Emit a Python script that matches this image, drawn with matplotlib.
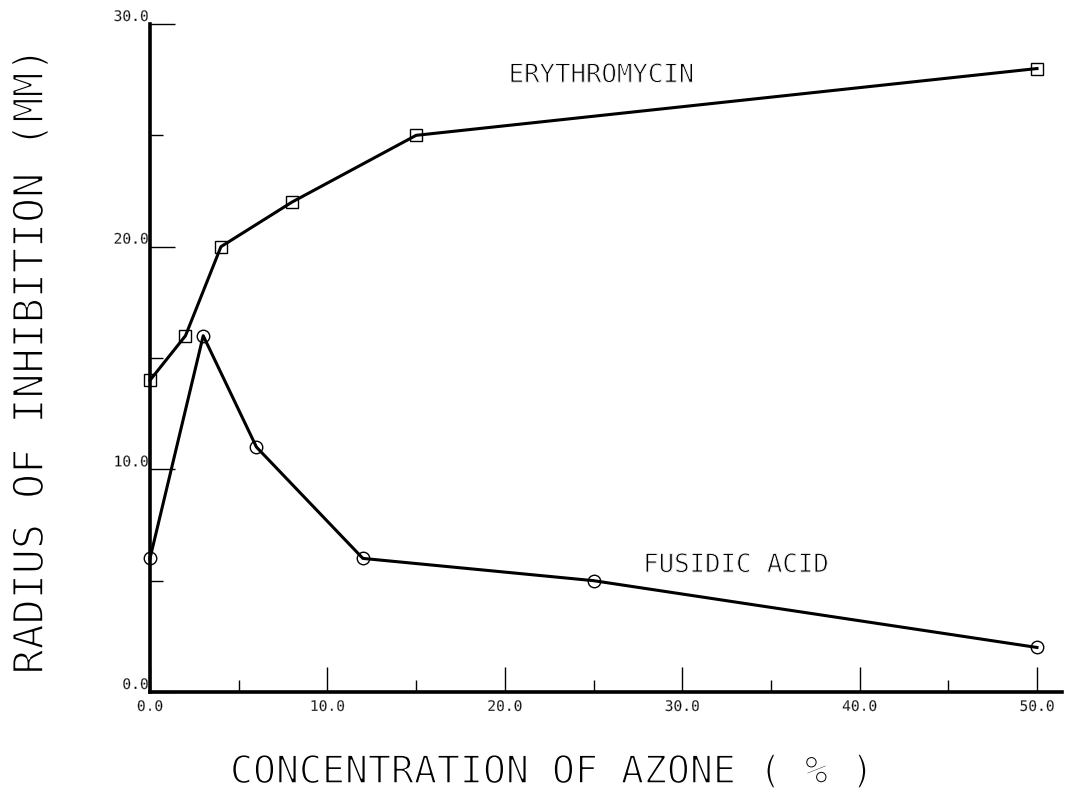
import matplotlib
matplotlib.use("Agg")
import matplotlib.pyplot as plt
import matplotlib.patheffects as pe
from matplotlib.ticker import MultipleLocator

# Data
ery_x = [0, 2, 4, 8, 15, 50]
ery_y = [14, 16, 20, 22, 25, 28]
fus_x = [0, 3, 6, 12, 25, 50]
fus_y = [6, 16, 11, 6, 5, 2]
x_ticks = [0, 10, 20, 30, 40, 50]
y_ticks = [0, 10, 20, 30]
x_label = "CONCENTRATION OF AZONE ( % )"
y_label = "RADIUS OF INHIBITION (MM)"

FONT = ["DejaVu Sans Mono", "DejaVu Sans"]
plt.rcParams["font.family"] = FONT


def thin(w):
    # erode glyph strokes with a white outline to mimic a thin plotter pen
    return [pe.Normal(), pe.Stroke(linewidth=w, foreground="white")]


W, H = 1065, 799
fig = plt.figure(figsize=(W / 100, H / 100), dpi=100)
left, right = 150, 1062
bottom, top = 692, 24
ax = fig.add_axes([left / W, (H - bottom) / H, (right - left) / W, (bottom - top) / H])
ax.set_xlim(0, 50 * (right - left) / (1037 - 150))
ax.set_ylim(0, 30)

ax.plot(ery_x, ery_y, color="black", lw=2.2, marker="s", ms=8,
        mfc="none", mec="black", mew=1.0, clip_on=False)
ax.plot(fus_x, fus_y, color="black", lw=2.2, marker="o", ms=9,
        mfc="none", mec="black", mew=1.0, clip_on=False)

for s in ["top", "right"]:
    ax.spines[s].set_visible(False)
ax.spines["left"].set_linewidth(2.6)
ax.spines["bottom"].set_linewidth(2.6)
ax.spines["left"].set_bounds(0, 30)

ax.set_xticks(x_ticks)
ax.set_yticks(y_ticks)
ax.xaxis.set_minor_locator(MultipleLocator(5))
ax.yaxis.set_minor_locator(MultipleLocator(5))
ax.set_xticklabels([f"{v:.1f}" for v in x_ticks])
ax.set_yticklabels([f"{v:.1f}" for v in y_ticks])
ax.tick_params(which="major", direction="in", length=18, width=1.0, labelsize=10.5)
ax.tick_params(which="minor", direction="in", length=9, width=1.0)
ax.tick_params(axis="x", which="major", pad=5)
ax.tick_params(axis="y", which="major", pad=1)
for lab in ax.get_yticklabels():
    lab.set_verticalalignment("bottom")
for lab in ax.get_xticklabels() + ax.get_yticklabels():
    lab.set_path_effects(thin(0.25))

ax.text(30.7, 27.7, "ERYTHROMYCIN", ha="right", va="center", fontsize=18.5,
        path_effects=thin(0.7))
ax.text(27.8, 5.7, "FUSIDIC ACID", ha="left", va="center", fontsize=18.5,
        path_effects=thin(0.7))

fig.text(552 / W, 1 - 773 / H, x_label, ha="center", va="center", fontsize=27.5,
         path_effects=thin(1.1))
fig.text(31 / W, 1 - 362 / H, y_label, ha="center", va="center", rotation=90,
         fontsize=30, path_effects=thin(1.2))

fig.savefig("out.png", dpi=100)
